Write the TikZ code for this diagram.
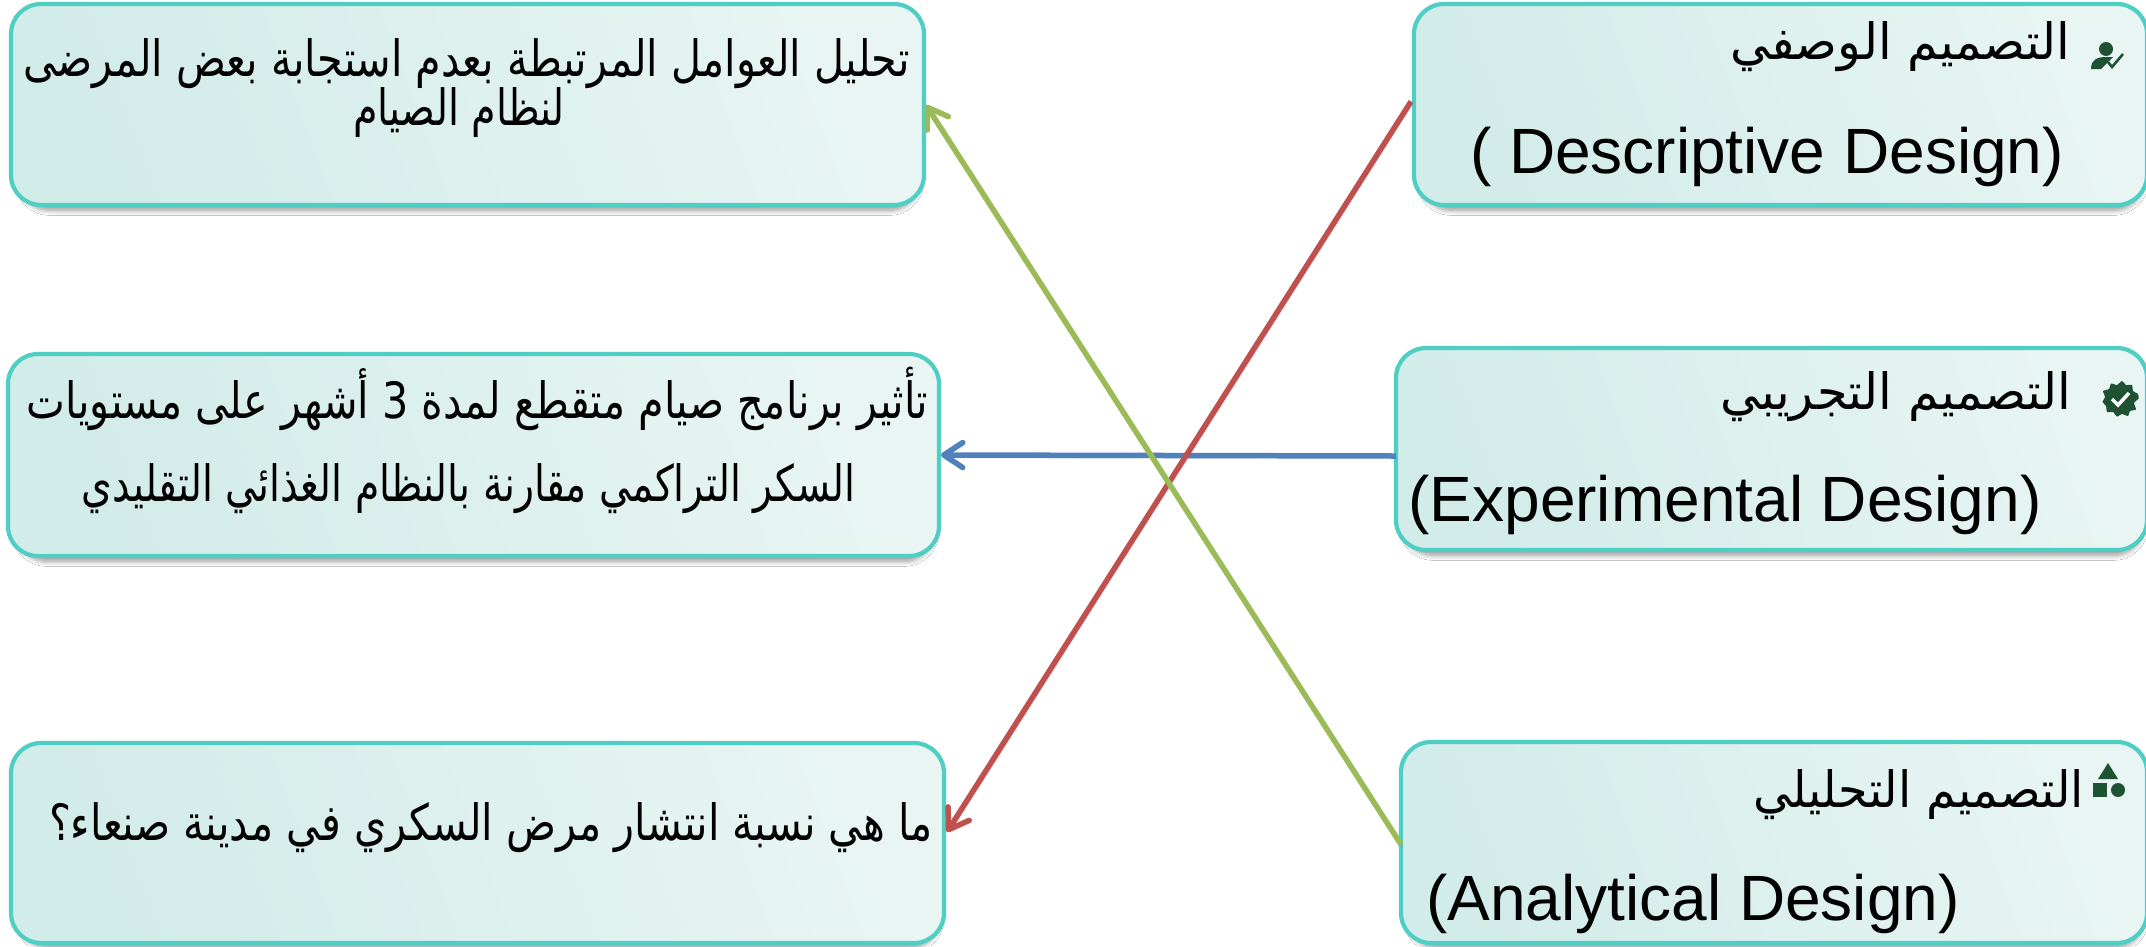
\documentclass[tikz,border=0pt]{standalone}
\usepackage{fontspec}
\usepackage{graphicx}
\usetikzlibrary{arrows.meta,shadows.blur}
\setmainfont{Liberation Sans}
\newfontfamily\arabicfont[Script=Arabic]{DejaVu Sans}
\TeXXeTstate=1
\definecolor{edgeteal}{HTML}{4FCFC4}
\definecolor{fillA}{HTML}{D2ECE9}
\definecolor{fillB}{HTML}{E8F5F3}
\definecolor{icongreen}{HTML}{1F5233}
\definecolor{arrgreen}{HTML}{9BBB59}
\definecolor{arrred}{HTML}{C0504D}
\definecolor{arrblue}{HTML}{4F81BD}
\newcommand{\artext}[2]{\resizebox{#1pt}{\height}{\arabicfont #2}}
\tikzset{
  card/.style={rectangle,draw=edgeteal,line width=4.2pt,rounded corners=30pt,
    left color=fillA,right color=fillB,shading angle=110,inner sep=0pt,outer sep=0pt,
    blur shadow={shadow xshift=2pt,shadow yshift=-7pt,shadow scale=0.985,shadow blur steps=8,shadow blur radius=5pt,shadow opacity=40}},
  ar/.style={inner sep=0pt,outer sep=0pt,anchor=base,font=\fontsize{50}{50}\selectfont,text=black},
  la/.style={inner sep=0pt,outer sep=0pt,anchor=base,font=\fontsize{64}{64}\selectfont,text=black},
  link/.style={line width=5.5pt,-{Straight Barb[round,length=19pt,width=25pt,line width=5.5pt]},
    preaction={draw=black,draw opacity=0.12,transform canvas={xshift=2pt,yshift=-3pt}}}
}
\begin{document}
\begin{tikzpicture}[x=1pt,y=-1pt]
\useasboundingbox (0,0) rectangle (2146,946);
\fill[white] (0,0) rectangle (2146,946);
\node[card,minimum width=913pt,minimum height=201pt] (L1) at (467.5,104.5) {};
\node[card,minimum width=931pt,minimum height=202pt] (L2) at (473.5,455) {};
\node[card,minimum width=933pt,minimum height=200pt] (L3) at (477.5,843) {};
\node[card,minimum width=733pt,minimum height=201pt] (R1) at (1780.5,104.5) {};
\node[card,minimum width=751pt,minimum height=202pt] (R2) at (1771.5,449) {};
\node[card,minimum width=746pt,minimum height=201pt] (R3) at (1774,842.5) {};
% texts
\node[ar] (t1a) at (466.5,76) {\artext{887}{\beginR تحليل العوامل المرتبطة بعدم استجابة بعض المرضى\endR}};
\node[ar] (t1b) at (459,125) {\artext{212}{\beginR لنظام الصيام\endR}};
\node[ar] (t2a) at (477.5,418) {\artext{901}{\beginR تأثير برنامج صيام متقطع لمدة 3 أشهر على مستويات\endR}};
\node[ar] (t2b) at (468.5,501) {\artext{773}{\beginR السكر التراكمي مقارنة بالنظام الغذائي التقليدي\endR}};
\node[ar] (t3a) at (491,840) {\artext{884}{\beginR ما هي نسبة انتشار مرض السكري في مدينة صنعاء؟\endR}};
\node[ar] (r1a) at (1900,59) {\artext{340}{\beginR التصميم الوصفي\endR}};
\node[ar] (r2a) at (1895.5,409) {\artext{351}{\beginR التصميم التجريبي\endR}};
\node[ar] (r3a) at (1918.5,807) {\artext{331}{\beginR التصميم التحليلي\endR}};
\node[la] (r1b) at (1767,173) {( Descriptive Design)};
\node[la] (r2b) at (1725,521) {(Experimental Design)};
\node[la] (r3b) at (1693,920) {(Analytical Design)};
% icons
\fill[icongreen] (2106,49) circle (7);
\fill[icongreen] (2091,69) .. controls (2091,59) and (2098,57) .. (2106,57) -- (2113,57) -- (2101,69) -- cycle;
\draw[icongreen,line width=2.6pt] (2108,62) -- (2112,67) -- (2123,54);
\fill[icongreen] plot[smooth cycle,tension=0.3] coordinates {
 (2138.5,398.5)(2134,403)(2136,409.5)(2130,411)(2128,416)(2122,414)(2117,416.5)(2113,412)(2107,412)(2106,406)(2102.5,402)(2105,397)(2103,391)(2109,389)(2111,383.5)(2117,385)(2122,381)(2126,385)(2132,385)(2133,391)(2138,394)};
\draw[white,line width=3.5pt] (2112,399) -- (2118,405) -- (2129,393);
\fill[icongreen] (2108,763) -- (2118,779) -- (2098,779) -- cycle;
\fill[icongreen] (2093,783) rectangle (2107,797);
\fill[icongreen] (2118,790) circle (7);
% connectors
\draw[link,arrblue] ([yshift=-7pt]R2.west) -- ([xshift=2pt]L2.east);
\draw[link,arrred] ([xshift=-3pt,yshift=3pt]R1.west) -- ([xshift=3pt,yshift=11pt]L3.east);
\draw[link,arrgreen] ([yshift=-2pt]R3.west) -- ([xshift=2pt,yshift=-0.5pt]L1.east);
\end{tikzpicture}
\end{document}
